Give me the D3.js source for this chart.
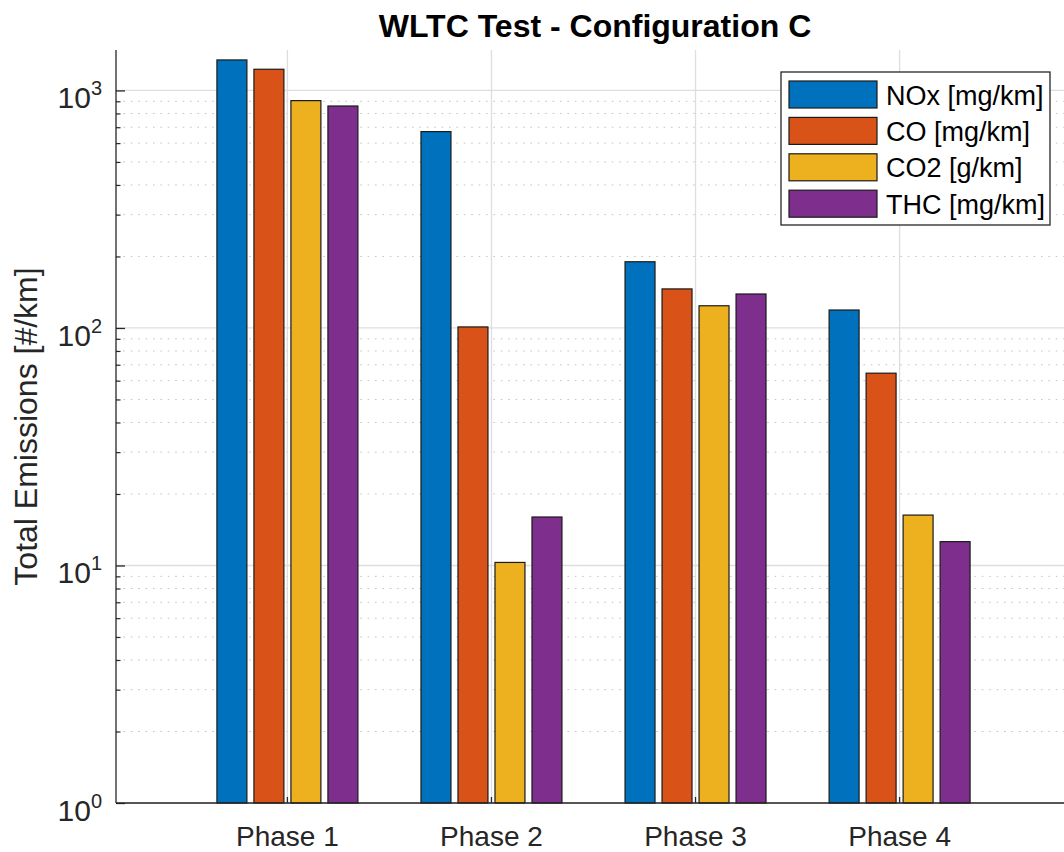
<!DOCTYPE html>
<html>
<head>
<meta charset="utf-8">
<script src="https://cdn.jsdelivr.net/npm/d3@7"></script>
<style>
  html, body { margin: 0; padding: 0; background: #fff; }
  svg { display: block; font-family: "Liberation Sans", Arial, Helvetica, sans-serif; }
</style>
</head>
<body>
<svg id="chart" width="1064" height="852"></svg>
<script>
// ---- data ----
const phases = ["Phase 1", "Phase 2", "Phase 3", "Phase 4"];
const seriesNames = ["NOx [mg/km]", "CO [mg/km]", "CO2 [g/km]", "THC [mg/km]"];
const seriesColors = ["#0072BD", "#D95319", "#EDB120", "#7E2F8E"];
const noxValues = [1344, 671, 190, 119];
const coValues  = [1228, 101, 146, 64.5];
const co2Values = [906, 10.3, 124, 16.3];
const thcValues = [860, 16.0, 139, 12.6];
const yMajorTicks = [1, 10, 100, 1000];
const yTickExponents = ["0", "1", "2", "3"];
const titleText = "WLTC Test - Configuration C";
const yLabelText = "Total Emissions [#/km]";

const seriesValues = [noxValues, coValues, co2Values, thcValues];

(function () {
// ---- layout ----
const svg = d3.select("#chart");
const pLeft = 116, pRight = 1071, pTop = 50, pBottom = 803;
const axisColor = "#262626";

const x = d3.scaleBand().domain(phases).range([pLeft, pRight]).paddingInner(0).paddingOuter(0.34);
const xSub = d3.scaleBand().domain(seriesNames).range([-74, 74]).paddingInner(0.19).paddingOuter(0.095);
const y = d3.scaleLog().domain([1, 1480]).range([pBottom, pTop]);

// minor tick values
const minorTicks = [];
for (let d = 1; d <= 1000; d *= 10) {
  for (let k = 2; k <= 9; k++) {
    const v = d * k;
    if (v <= y.domain()[1]) minorTicks.push(v);
  }
}

// ---- grid ----
const grid = svg.append("g");
grid.selectAll("line.minor").data(minorTicks).join("line").attr("class", "minor")
  .attr("x1", pLeft).attr("x2", pRight)
  .attr("y1", d => y(d)).attr("y2", d => y(d))
  .attr("stroke", "#c4c4c4").attr("stroke-width", 1)
  .attr("stroke-dasharray", "1.6,5.8");
grid.selectAll("line.major").data(yMajorTicks).join("line").attr("class", "major")
  .attr("x1", pLeft).attr("x2", pRight)
  .attr("y1", d => y(d)).attr("y2", d => y(d))
  .attr("stroke", "#dedede").attr("stroke-width", 1.3);
grid.selectAll("line.vert").data(phases).join("line").attr("class", "vert")
  .attr("x1", d => x(d) + x.bandwidth() / 2).attr("x2", d => x(d) + x.bandwidth() / 2)
  .attr("y1", pTop).attr("y2", pBottom)
  .attr("stroke", "#dedede").attr("stroke-width", 1.3);

// ---- bars ----
const barData = [];
phases.forEach((p, i) => {
  seriesNames.forEach((s, j) => {
    barData.push({ phase: p, series: s, value: seriesValues[j][i], color: seriesColors[j] });
  });
});
svg.append("g").selectAll("rect").data(barData).join("rect")
  .attr("x", d => x(d.phase) + x.bandwidth() / 2 + xSub(d.series))
  .attr("width", xSub.bandwidth())
  .attr("y", d => y(d.value))
  .attr("height", d => y(1) - y(d.value))
  .attr("fill", d => d.color)
  .attr("stroke", "#1a1a1a").attr("stroke-width", 1.2);

// ---- axes ----
const yAxis = svg.append("g").attr("transform", `translate(${pLeft},0)`)
  .call(d3.axisLeft(y).tickValues(yMajorTicks).tickSize(-9).tickSizeOuter(0).tickFormat(() => ""));
yAxis.select(".domain").attr("stroke", axisColor).attr("stroke-width", 1.3)
  .attr("d", `M0,${pTop}V${pBottom}`);
yAxis.selectAll(".tick line").attr("stroke", axisColor).attr("stroke-width", 1.3);

const yMinor = svg.append("g").attr("transform", `translate(${pLeft},0)`)
  .call(d3.axisLeft(y).tickValues(minorTicks).tickSize(-4.5).tickSizeOuter(0).tickFormat(() => ""));
yMinor.select(".domain").remove();
yMinor.selectAll(".tick line").attr("stroke", axisColor).attr("stroke-width", 1.2);

// y tick labels 10^n
yMajorTicks.forEach((v, i) => {
  const t = svg.append("text")
    .attr("x", pLeft - 14)
    .attr("y", y(v) + 18)
    .attr("text-anchor", "end")
    .attr("fill", axisColor)
    .attr("font-size", 30);
  t.append("tspan").text("10");
  t.append("tspan").attr("dy", -13).attr("font-size", 20).text(yTickExponents[i]);
});

const xAxis = svg.append("g").attr("transform", `translate(0,${pBottom})`)
  .call(d3.axisBottom(x).tickSize(-6).tickSizeOuter(0).tickPadding(0));
xAxis.select(".domain").attr("stroke", axisColor).attr("stroke-width", 1.3)
  .attr("d", `M${pLeft},0H${pRight}`);
xAxis.selectAll(".tick line").attr("stroke", axisColor).attr("stroke-width", 1.3);
xAxis.selectAll(".tick text")
  .attr("y", 43).attr("dy", null)
  .attr("font-size", 28).attr("fill", axisColor)
  .attr("font-family", "'Liberation Sans', Arial, sans-serif");

// ---- y label ----
svg.append("text")
  .attr("transform", `translate(37,${(pTop + pBottom) / 2}) rotate(-90)`)
  .attr("text-anchor", "middle")
  .attr("font-size", 32)
  .attr("fill", axisColor)
  .text(yLabelText);

// ---- title ----
svg.append("text")
  .attr("x", 595).attr("y", 37)
  .attr("text-anchor", "middle")
  .attr("font-size", 32).attr("font-weight", "bold")
  .attr("fill", "#000")
  .text(titleText);

// ---- legend ----
const lg = svg.append("g");
lg.append("rect").attr("x", 781).attr("y", 72).attr("width", 269).attr("height", 153)
  .attr("fill", "#fff").attr("stroke", axisColor).attr("stroke-width", 1.3);
const rows = lg.selectAll("g.row").data(seriesNames).join("g").attr("class", "row")
  .attr("transform", (d, i) => `translate(789,${81 + i * 36.4})`);
rows.append("rect").attr("width", 88).attr("height", 27)
  .attr("fill", (d, i) => seriesColors[i]).attr("stroke", "#1a1a1a").attr("stroke-width", 1.2);
rows.append("text").attr("x", 97).attr("y", 23.5)
  .attr("font-size", 27).attr("fill", "#000").text(d => d);
})();
</script>
</body>
</html>
